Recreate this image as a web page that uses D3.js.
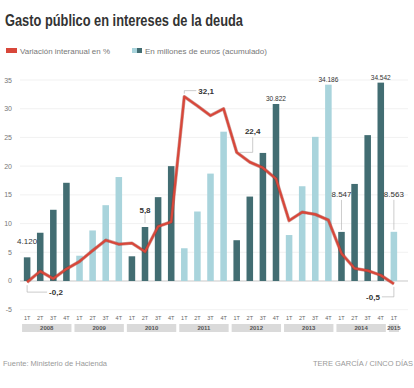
<!DOCTYPE html>
<html>
<head>
<meta charset="utf-8">
<script src="https://cdn.jsdelivr.net/npm/d3@7"></script>
<style>
  body { margin: 0; background: #fff; }
  svg { display: block; font-family: "Liberation Sans Narrow", "Arial Narrow", "Liberation Sans", Arial, sans-serif; }
</style>
</head>
<body>
<script>
// data
const years = ["2008", "2009", "2010", "2011", "2012", "2013", "2014", "2015"];
const quarters = ["1T", "2T", "3T", "4T"];
// gasto acumulado (miles de millones de euros) per quarter, 2008 1T .. 2015 1T
const gasto = [
  4.12, 8.4, 12.4, 17.1,
  4.4, 8.8, 13.2, 18.1,
  4.3, 9.4, 14.6, 20.0,
  5.7, 12.1, 18.7, 26.0,
  7.1, 14.7, 22.3, 30.822,
  8.0, 16.5, 25.1, 34.186,
  8.547, 16.9, 25.4, 34.542,
  8.563
];
// variacion interanual en %
const variacion = [
  -0.2, 1.7, 0.4, 2.1,
  3.4, 5.3, 7.1, 6.4,
  6.6, 5.1, 9.5, 10.3,
  32.1, 30.5, 28.8, 30.0,
  22.4, 20.7, 19.7, 17.8,
  10.5, 12.0, 11.6, 10.6,
  4.8, 2.2, 1.8, 1.0,
  -0.5
];
const yTicks = [-5, 0, 5, 10, 15, 20, 25, 30, 35];
const barLabels = [
  { i: 0, text: "4.120" },
  { i: 19, text: "30.822" },
  { i: 23, text: "34.186" },
  { i: 24, text: "8.547" },
  { i: 27, text: "34.542" },
  { i: 28, text: "8.563" }
];
const lineLabels = [
  { i: 0, text: "-0,2" },
  { i: 9, text: "5,8" },
  { i: 12, text: "32,1" },
  { i: 16, text: "22,4" },
  { i: 28, text: "-0,5" }
];

const W = 414, H = 388;
const dark = "#426d72", light = "#a9d4dc", red = "#d8473a";

const periods = gasto.map((v, i) => ({
  key: i,
  year: years[Math.floor(i / 4)],
  q: quarters[i % 4],
  gasto: v,
  variacion: variacion[i]
}));

const svg = d3.select("body").append("svg")
  .attr("width", W).attr("height", H);

const x = d3.scaleBand()
  .domain(periods.map(d => d.key))
  .range([17.3, 403.7])
  .padding(0.5);

const y = d3.scaleLinear()
  .domain([-5, 35])
  .range([309.7, 80]);

const cx = i => x(i) + x.bandwidth() / 2;

// title
svg.append("text")
  .attr("x", 5).attr("y", 26)
  .attr("font-size", 16).attr("font-weight", "bold")
  .attr("fill", "#333")
  .attr("textLength", 238).attr("lengthAdjust", "spacingAndGlyphs")
  .text("Gasto público en intereses de la deuda");

// legend
svg.append("rect").attr("x", 6).attr("y", 48).attr("width", 11).attr("height", 5).attr("fill", red);
svg.append("text").attr("x", 20).attr("y", 53.5)
  .attr("font-size", 7.5).attr("fill", "#777")
  .attr("textLength", 90).attr("lengthAdjust", "spacingAndGlyphs")
  .text("Variación interanual en %");
svg.append("rect").attr("x", 132).attr("y", 48).attr("width", 5).attr("height", 5).attr("fill", light);
svg.append("rect").attr("x", 137).attr("y", 48).attr("width", 5).attr("height", 5).attr("fill", dark);
svg.append("text").attr("x", 145).attr("y", 53.5)
  .attr("font-size", 7.5).attr("fill", "#777")
  .attr("textLength", 122).attr("lengthAdjust", "spacingAndGlyphs")
  .text("En millones de euros (acumulado)");

// grid + y labels
svg.append("g").selectAll("line")
  .data(yTicks)
  .join("line")
  .attr("x1", 20).attr("x2", 408)
  .attr("y1", d => y(d)).attr("y2", d => y(d))
  .attr("stroke", d => d === 0 ? "#c8c8c8" : "#ededed")
  .attr("stroke-width", d => d === 0 ? 1 : 0.8);

svg.append("g").selectAll("text")
  .data(yTicks)
  .join("text")
  .attr("x", 12).attr("y", d => y(d) + 2.5)
  .attr("text-anchor", "end")
  .attr("font-size", 7).attr("fill", "#777")
  .text(d => d);

// bars
svg.append("g").selectAll("rect")
  .data(periods)
  .join("rect")
  .attr("x", d => x(d.key))
  .attr("width", x.bandwidth())
  .attr("y", d => y(d.gasto))
  .attr("height", d => y(0) - y(d.gasto))
  .attr("fill", d => years.indexOf(d.year) % 2 === 0 ? dark : light);

// line
const line = d3.line()
  .x(d => cx(d.key))
  .y(d => y(d.variacion));

svg.append("path")
  .datum(periods)
  .attr("d", line)
  .attr("fill", "none")
  .attr("stroke", "#9a2b22")
  .attr("stroke-width", 3.4)
  .attr("stroke-opacity", 0.45)
  .attr("stroke-linejoin", "round");
svg.append("path")
  .datum(periods)
  .attr("d", line)
  .attr("fill", "none")
  .attr("stroke", red)
  .attr("stroke-width", 2.2)
  .attr("stroke-linejoin", "round");

// bar value labels
const ann = svg.append("g").attr("font-size", 7.5).attr("fill", "#333");
barLabels.forEach(b => {
  const bx = cx(b.i), top = y(gasto[b.i]);
  let ty = top - 3;
  if (b.i === 0) ty = top - 13;
  if (b.i === 24 || b.i === 28) {
    ty = top - 35;
    ann.append("line").attr("x1", bx).attr("x2", bx)
      .attr("y1", ty + 3).attr("y2", top - 2)
      .attr("stroke", "#aaa").attr("stroke-width", 0.6);
  }
  ann.append("text").attr("x", bx).attr("y", ty)
    .attr("text-anchor", "middle")
    .attr("textLength", 20).attr("lengthAdjust", "spacingAndGlyphs")
    .text(b.text);
});

// line value labels with leaders
const lead = (pts) => ann.append("polyline")
  .attr("points", pts.map(p => p.join(",")).join(" "))
  .attr("fill", "none").attr("stroke", "#aaa").attr("stroke-width", 0.6);

lineLabels.forEach(l => {
  const px = cx(l.i), py = y(variacion[l.i]);
  const t = ann.append("text").attr("font-weight", "bold").attr("font-size", 8).text(l.text);
  if (l.i === 0) {
    lead([[px, py + 3], [px, py + 10], [px + 20, py + 10]]);
    t.attr("x", px + 22).attr("y", py + 13);
  } else if (l.i === 9) {
    const top = y(gasto[l.i]);
    lead([[px, top - 12], [px, top - 4]]);
    t.attr("x", px).attr("y", top - 14).attr("text-anchor", "middle");
  } else if (l.i === 12) {
    lead([[px, py - 3], [px, py - 6], [px + 12, py - 6]]);
    t.attr("x", px + 14).attr("y", py - 3);
  } else if (l.i === 16) {
    lead([[px + 3, py], [px + 16, py], [px + 16, py - 15]]);
    t.attr("x", px + 16).attr("y", py - 18).attr("text-anchor", "middle");
  } else {
    lead([[px, py + 3], [px, py + 13], [px - 12, py + 13]]);
    t.attr("x", px - 14).attr("y", py + 16).attr("text-anchor", "end");
  }
});

// quarter labels
svg.append("g").selectAll("text")
  .data(periods)
  .join("text")
  .attr("x", d => cx(d.key)).attr("y", 320)
  .attr("text-anchor", "middle")
  .attr("font-size", 5.5).attr("fill", "#666")
  .text(d => d.q);

// year bands
const step = x.step();
const yearGroups = d3.groups(periods, d => d.year);
const yb = svg.append("g");
yearGroups.forEach(([yr, ps]) => {
  const x0 = cx(ps[0].key) - step / 2 + 1.5;
  const x1 = Math.min(cx(ps[ps.length - 1].key) + step / 2 - 1.5, 412);
  yb.append("rect").attr("x", x0).attr("y", 324)
    .attr("width", x1 - x0).attr("height", 8).attr("fill", "#dadada");
  yb.append("text").attr("x", (x0 + x1) / 2).attr("y", 330.3)
    .attr("text-anchor", "middle").attr("font-size", 6)
    .attr("font-weight", "bold").attr("fill", "#555")
    .text(yr);
});

// footer
svg.append("text").attr("x", 3).attr("y", 366)
  .attr("font-size", 7.5).attr("fill", "#999")
  .attr("textLength", 104).attr("lengthAdjust", "spacingAndGlyphs")
  .text("Fuente: Ministerio de Hacienda");
svg.append("text").attr("x", 413).attr("y", 366)
  .attr("text-anchor", "end")
  .attr("font-size", 7.5).attr("fill", "#999")
  .attr("textLength", 100).attr("lengthAdjust", "spacingAndGlyphs")
  .text("TERE GARCÍA / CINCO DÍAS");
</script>
</body>
</html>
